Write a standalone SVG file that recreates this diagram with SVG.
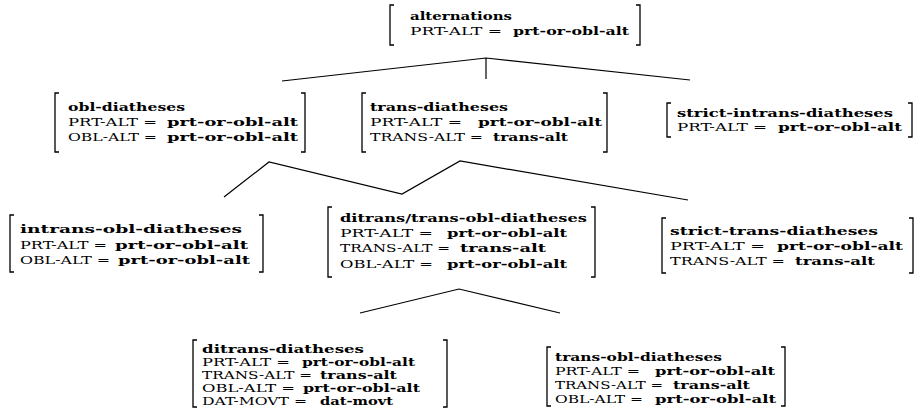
<svg xmlns="http://www.w3.org/2000/svg" width="917" height="409" viewBox="0 0 917 409">
<style>
text{font-family:"DejaVu Serif","Liberation Serif",serif;font-size:11.5px;fill:#000}
.b{font-weight:bold}
.k{font-weight:normal}
.br{fill:none;stroke:#000;stroke-width:1.3}
.ln{fill:none;stroke:#000;stroke-width:1.2}
</style>
<rect width="917" height="409" fill="#fff"/>
<g id="connectors">
<path class="ln" d="M486 58 L282 81 M486 58 L690 80 M486 58 L486 79"/>
<path class="ln" d="M224 197 L269 162 L402 194 L460 161 L688 200"/>
<path class="ln" d="M360 313 L459 289 L560 313"/>
</g>
<g id="alternations">
<path class="br" d="M394 5 H390 V45 H394 M636 5 H640 V45 H636"/>
<text class="b" x="410" y="20" textLength="102" lengthAdjust="spacingAndGlyphs">alternations</text>
<text class="k" x="410" y="35" textLength="92" lengthAdjust="spacingAndGlyphs">PRT-ALT =</text>
<text class="b" x="513" y="35" textLength="116" lengthAdjust="spacingAndGlyphs">prt-or-obl-alt</text>
</g>
<g id="obl-diatheses">
<path class="br" d="M59 93 H55 V152 H59 M301 93 H305 V152 H301"/>
<text class="b" x="68" y="111" textLength="117" lengthAdjust="spacingAndGlyphs">obl-diatheses</text>
<text class="k" x="68" y="126" textLength="89" lengthAdjust="spacingAndGlyphs">PRT-ALT =</text>
<text class="b" x="167" y="126" textLength="131" lengthAdjust="spacingAndGlyphs">prt-or-obl-alt</text>
<text class="k" x="68" y="141" textLength="89" lengthAdjust="spacingAndGlyphs">OBL-ALT =</text>
<text class="b" x="167" y="141" textLength="131" lengthAdjust="spacingAndGlyphs">prt-or-obl-alt</text>
</g>
<g id="trans-diatheses">
<path class="br" d="M366 93 H362 V152 H366 M603 93 H607 V152 H603"/>
<text class="b" x="370" y="111" textLength="138" lengthAdjust="spacingAndGlyphs">trans-diatheses</text>
<text class="k" x="370" y="126" textLength="92" lengthAdjust="spacingAndGlyphs">PRT-ALT =</text>
<text class="b" x="478" y="126" textLength="124" lengthAdjust="spacingAndGlyphs">prt-or-obl-alt</text>
<text class="k" x="370" y="141" textLength="113" lengthAdjust="spacingAndGlyphs">TRANS-ALT =</text>
<text class="b" x="493" y="141" textLength="75" lengthAdjust="spacingAndGlyphs">trans-alt</text>
</g>
<g id="strict-intrans-diatheses">
<path class="br" d="M671 103 H667 V137 H671 M908 103 H912 V137 H908"/>
<text class="b" x="677" y="117" textLength="216" lengthAdjust="spacingAndGlyphs">strict-intrans-diatheses</text>
<text class="k" x="677" y="131" textLength="90" lengthAdjust="spacingAndGlyphs">PRT-ALT =</text>
<text class="b" x="778" y="131" textLength="124" lengthAdjust="spacingAndGlyphs">prt-or-obl-alt</text>
</g>
<g id="intrans-obl-diatheses">
<path class="br" d="M14 215 H10 V272 H14 M259 215 H263 V272 H259"/>
<text class="b" x="20" y="233" textLength="222" lengthAdjust="spacingAndGlyphs">intrans-obl-diatheses</text>
<text class="k" x="20" y="249" textLength="87" lengthAdjust="spacingAndGlyphs">PRT-ALT =</text>
<text class="b" x="115" y="249" textLength="133" lengthAdjust="spacingAndGlyphs">prt-or-obl-alt</text>
<text class="k" x="20" y="264" textLength="90" lengthAdjust="spacingAndGlyphs">OBL-ALT =</text>
<text class="b" x="118" y="264" textLength="132" lengthAdjust="spacingAndGlyphs">prt-or-obl-alt</text>
</g>
<g id="ditrans-trans-obl-diatheses">
<path class="br" d="M332 207 H328 V277 H332 M591 207 H595 V277 H591"/>
<text class="b" x="340" y="222" textLength="247" lengthAdjust="spacingAndGlyphs">ditrans/trans-obl-diatheses</text>
<text class="k" x="340" y="237" textLength="93" lengthAdjust="spacingAndGlyphs">PRT-ALT =</text>
<text class="b" x="447" y="237" textLength="120" lengthAdjust="spacingAndGlyphs">prt-or-obl-alt</text>
<text class="k" x="340" y="252" textLength="110" lengthAdjust="spacingAndGlyphs">TRANS-ALT =</text>
<text class="b" x="460" y="252" textLength="86" lengthAdjust="spacingAndGlyphs">trans-alt</text>
<text class="k" x="340" y="268" textLength="93" lengthAdjust="spacingAndGlyphs">OBL-ALT =</text>
<text class="b" x="447" y="268" textLength="120" lengthAdjust="spacingAndGlyphs">prt-or-obl-alt</text>
</g>
<g id="strict-trans-diatheses">
<path class="br" d="M666 218 H662 V273 H666 M909 218 H913 V273 H909"/>
<text class="b" x="670" y="235" textLength="208" lengthAdjust="spacingAndGlyphs">strict-trans-diatheses</text>
<text class="k" x="670" y="250" textLength="95" lengthAdjust="spacingAndGlyphs">PRT-ALT =</text>
<text class="b" x="777" y="250" textLength="126" lengthAdjust="spacingAndGlyphs">prt-or-obl-alt</text>
<text class="k" x="670" y="265" textLength="115" lengthAdjust="spacingAndGlyphs">TRANS-ALT =</text>
<text class="b" x="795" y="265" textLength="80" lengthAdjust="spacingAndGlyphs">trans-alt</text>
</g>
<g id="ditrans-diatheses">
<path class="br" d="M197 340 H193 V407 H197 M443 340 H447 V407 H443"/>
<text class="b" x="202" y="353" textLength="162" lengthAdjust="spacingAndGlyphs">ditrans-diatheses</text>
<text class="k" x="202" y="366" textLength="88" lengthAdjust="spacingAndGlyphs">PRT-ALT =</text>
<text class="b" x="302" y="366" textLength="113" lengthAdjust="spacingAndGlyphs">prt-or-obl-alt</text>
<text class="k" x="202" y="379" textLength="110" lengthAdjust="spacingAndGlyphs">TRANS-ALT =</text>
<text class="b" x="320" y="379" textLength="77" lengthAdjust="spacingAndGlyphs">trans-alt</text>
<text class="k" x="202" y="392" textLength="93" lengthAdjust="spacingAndGlyphs">OBL-ALT =</text>
<text class="b" x="303" y="392" textLength="117" lengthAdjust="spacingAndGlyphs">prt-or-obl-alt</text>
<text class="k" x="202" y="405" textLength="105" lengthAdjust="spacingAndGlyphs">DAT-MOVT =</text>
<text class="b" x="320" y="405" textLength="73" lengthAdjust="spacingAndGlyphs">dat-movt</text>
</g>
<g id="trans-obl-diatheses">
<path class="br" d="M551 347 H547 V406 H551 M781 347 H785 V406 H781"/>
<text class="b" x="555" y="361" textLength="167" lengthAdjust="spacingAndGlyphs">trans-obl-diatheses</text>
<text class="k" x="555" y="375" textLength="85" lengthAdjust="spacingAndGlyphs">PRT-ALT =</text>
<text class="b" x="655" y="375" textLength="120" lengthAdjust="spacingAndGlyphs">prt-or-obl-alt</text>
<text class="k" x="555" y="389" textLength="108" lengthAdjust="spacingAndGlyphs">TRANS-ALT =</text>
<text class="b" x="673" y="389" textLength="77" lengthAdjust="spacingAndGlyphs">trans-alt</text>
<text class="k" x="555" y="403" textLength="88" lengthAdjust="spacingAndGlyphs">OBL-ALT =</text>
<text class="b" x="655" y="403" textLength="121" lengthAdjust="spacingAndGlyphs">prt-or-obl-alt</text>
</g>
</svg>
